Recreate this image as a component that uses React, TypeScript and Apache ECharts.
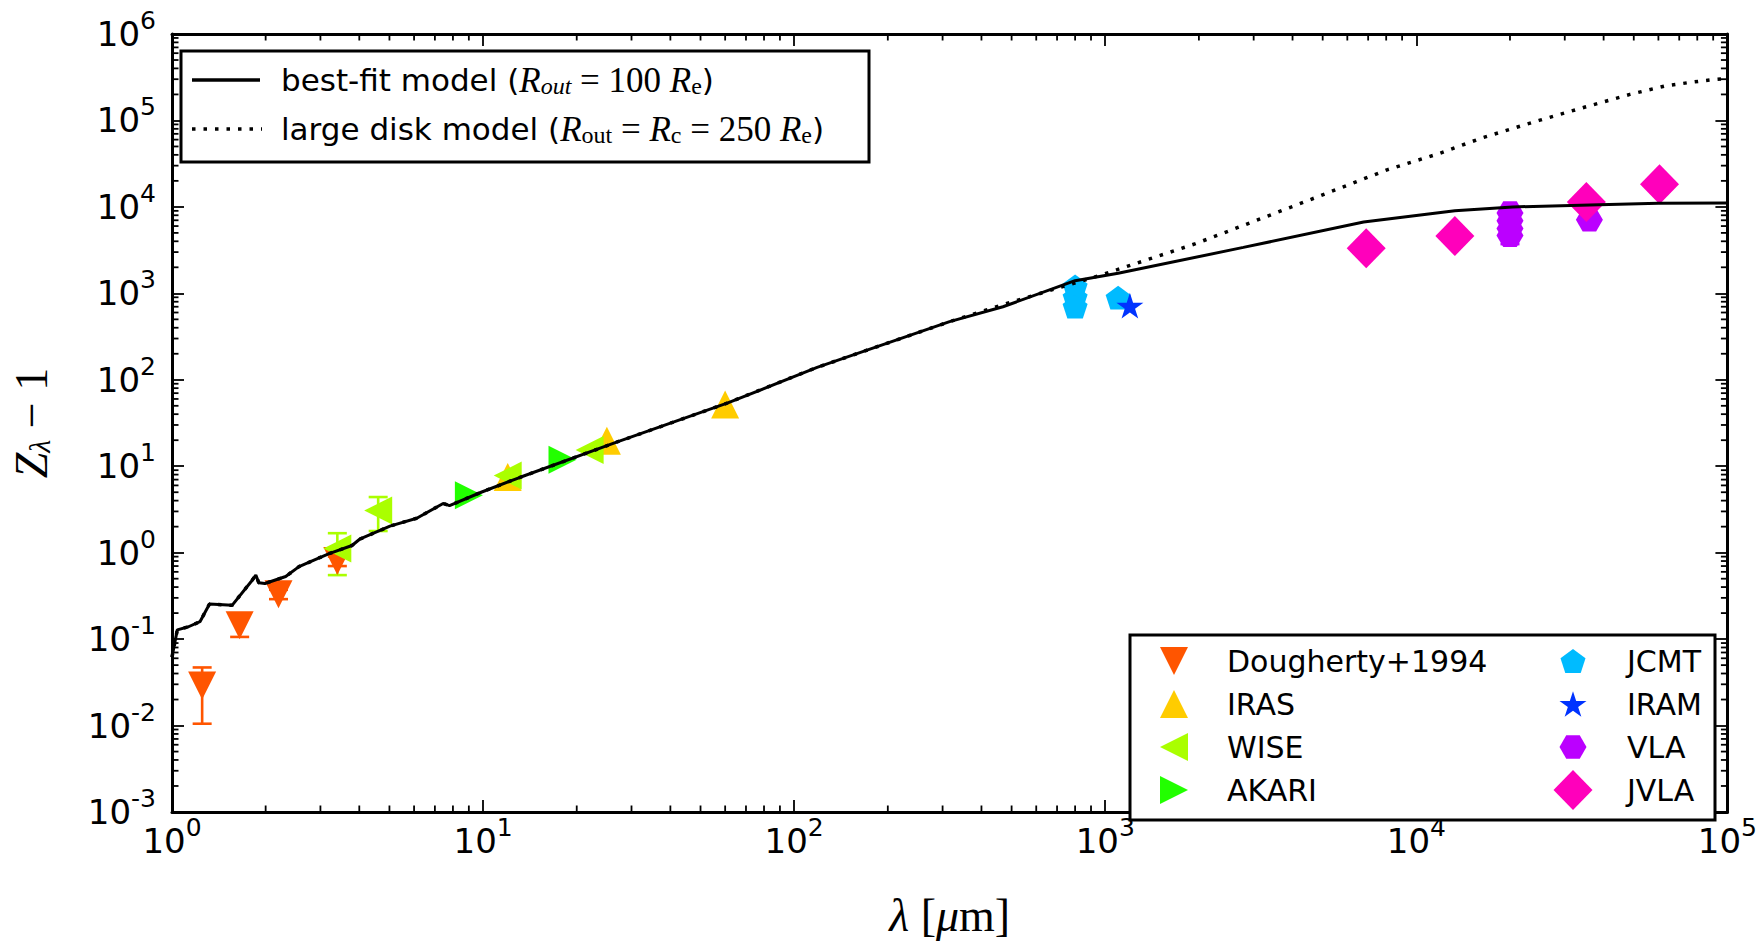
import React, { useEffect, useRef } from 'react';
import * as echarts from 'echarts';

// ---------- axis ranges ----------
const X_MIN = 1;
const X_MAX = 1e5;
const Y_MIN = 1e-3;
const Y_MAX = 1e6;

// ---------- model curves (lambda [um], Z-1) ----------
const modelShared: [number, number][] = [
  [1.0, 0.062], [1.04, 0.128], [1.13, 0.139], [1.23, 0.159], [1.32, 0.255], [1.56, 0.246],
  [1.8, 0.467], [1.86, 0.55], [1.9, 0.45], [1.99, 0.44], [2.32, 0.53], [2.56, 0.69],
  [2.86, 0.82], [3.2, 0.975], [3.79, 1.21], [4.01, 1.43], [5.02, 2.03], [6.12, 2.5],
  [7.44, 3.71], [7.8, 3.5], [9.86, 5.0], [13.1, 7.4], [27.0, 19.1], [61.2, 54],
  [118.5, 139], [316, 470],
];
const bestFitTail: [number, number][] = [
  [469, 700], [800, 1400], [1100, 1705], [2780, 3400], [6770, 6670], [13300, 9010],
  [20400, 9980], [38700, 10600], [60000, 11000], [100000, 11100],
];
const largeDiskTail: [number, number][] = [
  [469, 740], [955, 1600], [1950, 3750], [3970, 10000], [8090, 27000], [11880, 41600],
  [16300, 63000], [24800, 100000], [34900, 143000], [40900, 168000], [48600, 200000],
  [62800, 250000], [74500, 273000], [88500, 295000], [100000, 305000],
];

// ---------- photometry (lambda [um], Z-1) ----------
const dougherty: [number, number][] = [[1.25, 0.029], [1.65, 0.145], [2.2, 0.331], [3.4, 0.8]];
const doughertyErr: [number, number, number][] = [
  [1.25, 0.0105, 0.047], [1.65, 0.106, 0.184], [2.2, 0.29, 0.372], [3.4, 0.7, 0.9],
];
const iras: [number, number][] = [[12, 7.5], [25, 19.7], [60, 51.6]];
const wise: [number, number][] = [[3.4, 1.12], [4.6, 3.07], [12, 7.8], [22, 15.4]];
const wiseErr: [number, number, number][] = [[3.4, 0.55, 1.68], [4.6, 1.78, 4.4]];
const akari: [number, number][] = [[9, 4.6], [18, 11.9]];
const jcmt: [number, number][] = [[800, 1200], [800, 900], [800, 700], [1100, 890]];
const iram: [number, number][] = [[1200, 720]];
const vla: [number, number][] = [[20000, 8490], [20000, 6900], [20000, 5610], [20000, 4680], [36000, 7080]];
const vlaErr: [number, number, number][] = [[20000, 3710, 5650]];
const jvla: [number, number][] = [[6900, 3320], [13300, 4600], [35200, 11400], [60500, 18300]];

const C = {
  dougherty: '#FF5500',
  iras: '#FFCC00',
  wise: '#AAFF00',
  akari: '#22FF00',
  jcmt: '#00BBFF',
  iram: '#0033FF',
  vla: '#BB00FF',
  jvla: '#FF00BB',
};

// ---------- marker shapes ----------
type P = [number, number];
const polar = (r: number, deg: number): P => [r * Math.cos((deg * Math.PI) / 180), r * Math.sin((deg * Math.PI) / 180)];
const SHAPES: Record<string, P[]> = {
  down: [[-1, -1], [1, -1], [0, 1]],
  up: [[0, -1], [1, 1], [-1, 1]],
  left: [[1, -1], [1, 1], [-1, 0]],
  right: [[-1, -1], [-1, 1], [1, 0]],
  pentagon: [0, 1, 2, 3, 4].map((k) => polar(1, -90 + 72 * k)),
  star: [0, 1, 2, 3, 4, 5, 6, 7, 8, 9].map((k) => polar(k % 2 === 0 ? 1 : 0.382, -90 + 36 * k)),
  hexagon: [0, 1, 2, 3, 4, 5].map((k) => polar(1, 60 * k)),
  diamond: [[0, -1], [1, 0], [0, 1], [-1, 0]],
};
const SIZES: Record<string, [number, number]> = {
  down: [28, 28], up: [28, 28], left: [28, 28], right: [28, 28],
  pentagon: [25, 23.8], star: [27, 25.7], hexagon: [27, 23.4], diamond: [39, 40],
};
const toPath = (pts: P[]) => 'path://M' + pts.map((p) => `${p[0].toFixed(4)},${p[1].toFixed(4)}`).join('L') + 'Z';
const fitPoints = (pts: P[], cx: number, cy: number, w: number, h: number): P[] => {
  const xs = pts.map((p) => p[0]);
  const ys = pts.map((p) => p[1]);
  const x0 = Math.min(...xs), x1 = Math.max(...xs), y0 = Math.min(...ys), y1 = Math.max(...ys);
  return pts.map((p) => [cx - w / 2 + ((p[0] - x0) / (x1 - x0)) * w, cy - h / 2 + ((p[1] - y0) / (y1 - y0)) * h]);
};

// ---------- axis decoration ----------
const minorX: number[] = [];
for (let e = 0; e < 5; e++) for (let m = 2; m <= 9; m++) minorX.push(m * Math.pow(10, e));
const minorY: number[] = [];
for (let e = -3; e < 6; e++) for (let m = 2; m <= 9; m++) minorY.push(m * Math.pow(10, e));

const FONT = 'DejaVu Sans';
const MATH = 'Liberation Serif';

const tickRich = {
  b: { fontSize: 34, fontFamily: FONT, color: '#000', verticalAlign: 'middle' },
  s: { fontSize: 25, fontFamily: FONT, color: '#000', verticalAlign: 'top', padding: [0, 0, 27, 0] },
};
const powLabel = (v: number) => `{b|10}{s|${Math.round(Math.log10(v))}}`;

export default function App() {
  const ref = useRef<HTMLDivElement>(null);
  useEffect(() => {
    if (!ref.current) return;
    const chart = echarts.init(ref.current, undefined, { renderer: 'svg' });

    const axisCommon = {
      type: 'log' as const,
      logBase: 10,
      axisLine: { show: true, onZero: false, lineStyle: { color: '#000', width: 3 } },
      axisTick: { show: true, inside: true, length: 12, lineStyle: { color: '#000', width: 1.8 } },
      splitLine: { show: false },
      minorTick: { show: false },
    };

    const scatter = (name: string, data: [number, number][], shape: string, color: string, z: number) => ({
      name,
      type: 'scatter',
      data,
      symbol: toPath(SHAPES[shape]),
      symbolSize: SIZES[shape],
      itemStyle: { color, opacity: 1 },
      z,
      silent: true,
    });

    const errBars = (data: [number, number, number][], color: string) => ({
      type: 'custom',
      data,
      encode: { x: 0, y: [1, 2] },
      z: 2,
      silent: true,
      renderItem: (_p: any, api: any) => {
        const x = api.value(0);
        const a = api.coord([x, api.value(1)]);
        const b = api.coord([x, api.value(2)]);
        const cap = 9.5;
        const st = { stroke: color, lineWidth: 2.6 };
        return {
          type: 'group',
          children: [
            { type: 'line', shape: { x1: a[0], y1: a[1], x2: b[0], y2: b[1] }, style: st },
            { type: 'line', shape: { x1: a[0] - cap, y1: a[1], x2: a[0] + cap, y2: a[1] }, style: st },
            { type: 'line', shape: { x1: b[0] - cap, y1: b[1], x2: b[0] + cap, y2: b[1] }, style: st },
          ],
        };
      },
    });

    const tickStyle = { stroke: '#000', lineWidth: 1.8 };

    // legends
    const legendGraphics: any[] = [];
    legendGraphics.push({
      type: 'rect', z: 100,
      shape: { x: 181, y: 51, width: 688, height: 111 },
      style: { fill: '#fff', stroke: '#000', lineWidth: 3 },
    });
    legendGraphics.push({
      type: 'line', z: 101, shape: { x1: 192, y1: 80, x2: 260, y2: 80 },
      style: { stroke: '#000', lineWidth: 3.5 },
    });
    legendGraphics.push({
      type: 'line', z: 101, shape: { x1: 192, y1: 129, x2: 262, y2: 129 },
      style: { stroke: '#000', lineWidth: 3.5, lineDash: [3.5, 8] },
    });
    const legRich = {
      n: { fontFamily: FONT, fontSize: 31, fill: '#000', verticalAlign: 'middle' },
      r: { fontFamily: MATH, fontStyle: 'italic', fontSize: 35, fill: '#000', verticalAlign: 'middle' },
      si: { fontFamily: MATH, fontStyle: 'italic', fontSize: 24, fill: '#000', verticalAlign: 'bottom', padding: [8, 0, 0, 0] },
      sr: { fontFamily: MATH, fontSize: 24, fill: '#000', verticalAlign: 'bottom', padding: [8, 0, 0, 0] },
      m: { fontFamily: MATH, fontSize: 35, fill: '#000', verticalAlign: 'middle' },
    };
    legendGraphics.push({
      type: 'text', z: 101, x: 281, y: 80,
      style: {
        text: '{n|best-fit model (}{r|R}{si|out}{m| = 100 }{r|R}{sr|e}{n|)}',
        rich: legRich, verticalAlign: 'middle', align: 'left',
      },
    });
    legendGraphics.push({
      type: 'text', z: 101, x: 281, y: 129,
      style: {
        text: '{n|large disk model (}{r|R}{sr|out}{m| = }{r|R}{sr|c}{m| = 250 }{r|R}{sr|e}{n|)}',
        rich: legRich, verticalAlign: 'middle', align: 'left',
      },
    });

    legendGraphics.push({
      type: 'rect', z: 100,
      shape: { x: 1130, y: 635, width: 585, height: 185 },
      style: { fill: '#fff', stroke: '#000', lineWidth: 3 },
    });
    const markerLegend: [string, string, string][] = [
      ['Dougherty+1994', 'down', C.dougherty],
      ['IRAS', 'up', C.iras],
      ['WISE', 'left', C.wise],
      ['AKARI', 'right', C.akari],
      ['JCMT', 'pentagon', C.jcmt],
      ['IRAM', 'star', C.iram],
      ['VLA', 'hexagon', C.vla],
      ['JVLA', 'diamond', C.jvla],
    ];
    const rowsY = [661, 704, 747, 790];
    markerLegend.forEach(([label, shape, color], i) => {
      const col = Math.floor(i / 4);
      const cy = rowsY[i % 4];
      const mx = col === 0 ? 1174 : 1573;
      const tx = col === 0 ? 1227 : 1627;
      const [w, h] = SIZES[shape];
      legendGraphics.push({
        type: 'polygon', z: 101,
        shape: { points: fitPoints(SHAPES[shape], mx, cy, w, h) },
        style: { fill: color },
      });
      legendGraphics.push({
        type: 'text', z: 101, x: tx, y: cy,
        style: { text: label, fontFamily: FONT, fontSize: 30, fill: '#000', verticalAlign: 'middle', align: 'left' },
      });
    });

    chart.setOption({
      animation: false,
      backgroundColor: '#fff',
      grid: { left: 163, top: 34, width: 1567, height: 800, containLabel: false },
      xAxis: [
        {
          ...axisCommon,
          min: X_MIN, max: X_MAX, splitNumber: 5, position: 'bottom',
          axisLabel: { show: true, formatter: powLabel, rich: tickRich, margin: 3 },
          name: '{i|λ}{n| [}{i|μ}{n|m]}',
          nameLocation: 'middle',
          nameGap: 80,
          nameTextStyle: {
            rich: {
              i: { fontFamily: MATH, fontStyle: 'italic', fontSize: 46, color: '#000' },
              n: { fontFamily: MATH, fontSize: 46, color: '#000' },
            },
          },
        },
        {
          ...axisCommon,
          min: X_MIN, max: X_MAX, splitNumber: 5, position: 'top',
          axisLabel: { show: false },
        },
      ],
      yAxis: [
        {
          ...axisCommon,
          min: Y_MIN, max: Y_MAX, splitNumber: 9, position: 'left',
          axisLabel: { show: true, formatter: powLabel, rich: tickRich, margin: 16 },
          name: '{i|Z}{s|λ}{n| − 1}',
          nameLocation: 'middle',
          nameRotate: 90,
          nameGap: 118,
          nameTextStyle: {
            rich: {
              i: { fontFamily: MATH, fontStyle: 'italic', fontSize: 46, color: '#000', verticalAlign: 'middle' },
              s: { fontFamily: MATH, fontStyle: 'italic', fontSize: 30, color: '#000', verticalAlign: 'bottom', padding: [10, 0, 0, 0] },
              n: { fontFamily: MATH, fontSize: 46, color: '#000', verticalAlign: 'middle' },
            },
          },
        },
        {
          ...axisCommon,
          min: Y_MIN, max: Y_MAX, splitNumber: 9, position: 'right',
          axisLabel: { show: false },
        },
      ],
      series: [
        {
          type: 'custom',
          data: minorX.map((v) => [v, 1]),
          encode: { x: 0, y: 1 },
          silent: true,
          clip: false,
          z: 1,
          renderItem: (_p: any, api: any) => {
            const v = api.value(0);
            const b = api.coord([v, Y_MIN]);
            const t = api.coord([v, Y_MAX]);
            return {
              type: 'group',
              children: [
                { type: 'line', shape: { x1: b[0], y1: b[1], x2: b[0], y2: b[1] - 6.5 }, style: tickStyle },
                { type: 'line', shape: { x1: t[0], y1: t[1], x2: t[0], y2: t[1] + 6.5 }, style: tickStyle },
              ],
            };
          },
        },
        {
          type: 'custom',
          data: minorY.map((v) => [1, v]),
          encode: { x: 0, y: 1 },
          silent: true,
          clip: false,
          z: 1,
          renderItem: (_p: any, api: any) => {
            const v = api.value(1);
            const l = api.coord([X_MIN, v]);
            const r = api.coord([X_MAX, v]);
            return {
              type: 'group',
              children: [
                { type: 'line', shape: { x1: l[0], y1: l[1], x2: l[0] + 6.5, y2: l[1] }, style: tickStyle },
                { type: 'line', shape: { x1: r[0], y1: r[1], x2: r[0] - 6.5, y2: r[1] }, style: tickStyle },
              ],
            };
          },
        },
        errBars(doughertyErr, C.dougherty),
        errBars(wiseErr, C.wise),
        errBars(vlaErr, C.vla),
        scatter('Dougherty+1994', dougherty, 'down', C.dougherty, 3),
        scatter('IRAS', iras, 'up', C.iras, 4),
        scatter('WISE', wise, 'left', C.wise, 5),
        scatter('AKARI', akari, 'right', C.akari, 6),
        scatter('JCMT', jcmt, 'pentagon', C.jcmt, 7),
        scatter('IRAM', iram, 'star', C.iram, 8),
        scatter('VLA', vla, 'hexagon', C.vla, 9),
        scatter('JVLA', jvla, 'diamond', C.jvla, 10),
        {
          name: 'large disk model',
          type: 'line',
          data: [...modelShared, ...largeDiskTail],
          showSymbol: false,
          symbol: 'none',
          silent: true,
          z: 11,
          lineStyle: { color: '#000', width: 3.5, type: [3.5, 8], cap: 'butt' },
        },
        {
          name: 'best-fit model',
          type: 'line',
          data: [...modelShared, ...bestFitTail],
          showSymbol: false,
          symbol: 'none',
          silent: true,
          z: 12,
          lineStyle: { color: '#000', width: 3 },
        },
      ],
      graphic: legendGraphics,
    });

    return () => chart.dispose();
  }, []);

  return (
    <div
      ref={ref}
      style={{ position: 'fixed', left: 0, top: 0, width: 1760, height: 943, background: '#fff' }}
    />
  );
}
